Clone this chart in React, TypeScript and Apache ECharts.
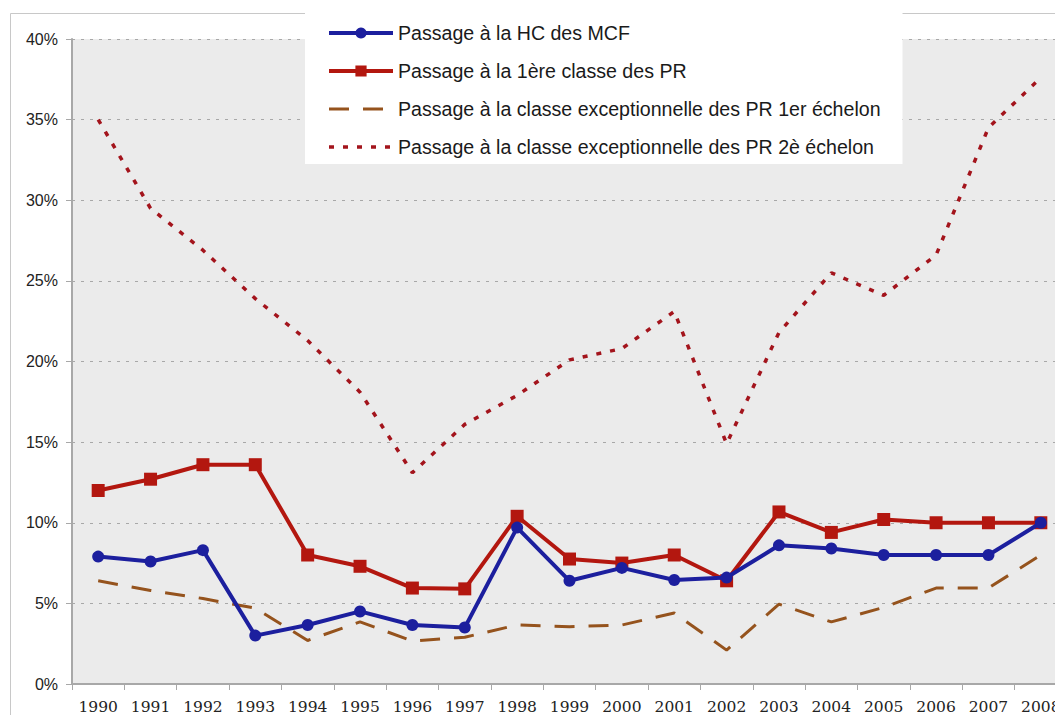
import React, { useEffect, useRef } from "react";
import * as echarts from "echarts";

const years = ["1990","1991","1992","1993","1994","1995","1996","1997","1998","1999","2000","2001","2002","2003","2004","2005","2006","2007","2008"];
const hcMcf = [7.9, 7.6, 8.3, 3.0, 3.66, 4.5, 3.66, 3.5, 9.7, 6.4, 7.2, 6.45, 6.6, 8.6, 8.4, 8.0, 8.0, 8.0, 10.0];
const premiereClassePr = [12.0, 12.7, 13.6, 13.6, 8.0, 7.3, 5.95, 5.9, 10.4, 7.75, 7.5, 8.0, 6.4, 10.67, 9.4, 10.2, 10.0, 10.0, 10.0];
const exc1erEchelon = [6.4, 5.8, 5.3, 4.7, 2.7, 3.85, 2.67, 2.9, 3.66, 3.55, 3.66, 4.4, 2.1, 4.95, 3.85, 4.75, 5.95, 5.95, 8.0];
const exc2eEchelon = [35.0, 29.5, 26.9, 23.9, 21.3, 18.1, 13.1, 16.1, 17.9, 20.1, 20.8, 23.1, 14.9, 21.8, 25.5, 24.1, 26.6, 34.5, 37.6];
const seriesNames = [
  "Passage à la HC des MCF",
  "Passage à la 1ère classe des PR",
  "Passage à la classe exceptionnelle des PR 1er échelon",
  "Passage à la classe exceptionnelle des PR 2è échelon",
];

export default function App() {
  const ref = useRef<HTMLDivElement>(null);
  useEffect(() => {
    if (!ref.current) return;
    const chart = echarts.init(ref.current, null, { renderer: "svg" });
    chart.setOption({
      animation: false,
      backgroundColor: "#ffffff",
      graphic: [
        {
          type: "rect",
          z: -1,
          shape: { x: 10.5, y: 13.5, width: 1200, height: 900 },
          style: { fill: "none", stroke: "#c8c8c8", lineWidth: 1 },
        },
      ],
      grid: {
        left: 72,
        top: 39,
        right: 0,
        bottom: 31,
        show: true,
        backgroundColor: "#ebebeb",
        borderWidth: 0,
        containLabel: false,
      },
      legend: {
        orient: "vertical",
        left: 305,
        top: 13,
        padding: [10, 22, 7, 22],
        backgroundColor: "#ffffff",
        itemWidth: 64,
        itemHeight: 14,
        itemGap: 18,
        z: 10,
        textStyle: { fontFamily: "Liberation Sans", fontSize: 19.6, color: "#1a1a1a" },
        data: [
          { name: seriesNames[0], lineStyle: { width: 4 } },
          { name: seriesNames[1], lineStyle: { width: 4 } },
          { name: seriesNames[2], lineStyle: { width: 3 }, itemStyle: { opacity: 0 } },
          { name: seriesNames[3], lineStyle: { width: 3.5 }, itemStyle: { opacity: 0 } },
        ],
      },
      xAxis: {
        type: "category",
        data: years,
        boundaryGap: true,
        axisLine: { lineStyle: { color: "#a8a8a8", width: 2 } },
        axisTick: { show: true, length: 6, lineStyle: { color: "#a8a8a8", width: 1 } },
        axisLabel: { fontFamily: "DejaVu Serif", fontSize: 15.5, color: "#222", margin: 15, interval: 0 },
        splitLine: { show: false },
      },
      yAxis: {
        type: "value",
        min: 0,
        max: 40,
        interval: 5,
        axisLine: { show: true, lineStyle: { color: "#a8a8a8", width: 2 } },
        axisTick: { show: true, length: 6, lineStyle: { color: "#a8a8a8", width: 1 } },
        axisLabel: { formatter: "{value}%", fontFamily: "Liberation Sans", fontSize: 16, color: "#222", margin: 14 },
        splitLine: { show: true, lineStyle: { color: "#a8a8a8", width: 1, type: [3, 6] } },
      },
      series: [
        {
          name: seriesNames[0],
          type: "line",
          data: hcMcf,
          symbol: "circle",
          symbolSize: 12,
          lineStyle: { color: "#1c1f9e", width: 4 },
          itemStyle: { color: "#1c1f9e" },
          z: 5,
        },
        {
          name: seriesNames[1],
          type: "line",
          data: premiereClassePr,
          symbol: "rect",
          symbolSize: 13,
          lineStyle: { color: "#b3170f", width: 4 },
          itemStyle: { color: "#b3170f" },
          z: 4,
        },
        {
          name: seriesNames[2],
          type: "line",
          data: exc1erEchelon,
          symbol: "none",
          lineStyle: { color: "#95531d", width: 3, type: [20, 14] },
          itemStyle: { color: "#95531d" },
          z: 3,
        },
        {
          name: seriesNames[3],
          type: "line",
          data: exc2eEchelon,
          symbol: "none",
          lineStyle: { color: "#a3141c", width: 3.5, type: [5, 9] },
          itemStyle: { color: "#a3141c" },
          z: 3,
        },
      ],
    });
    return () => chart.dispose();
  }, []);
  return (
    <div
      ref={ref}
      style={{ position: "fixed", left: 0, top: 0, width: 1067, height: 715 }}
    />
  );
}
